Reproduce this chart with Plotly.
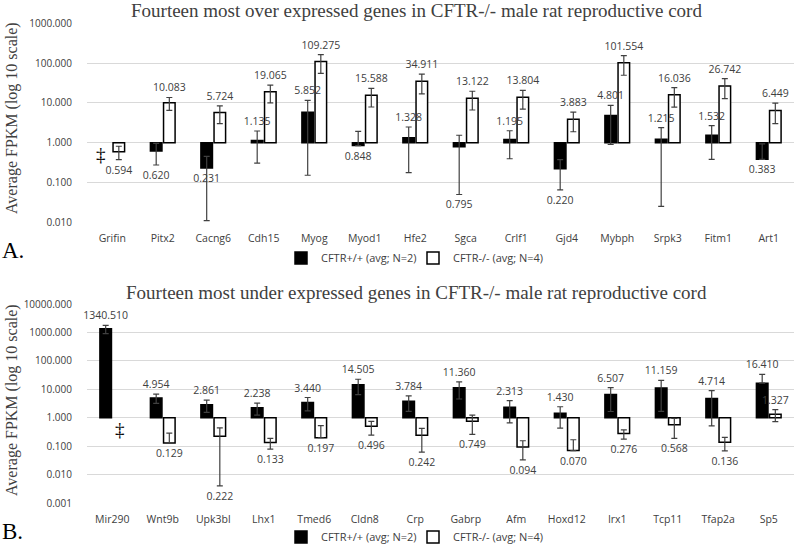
import plotly.graph_objects as go

# ---------------- data ----------------
genes_a = ["Grifin", "Pitx2", "Cacng6", "Cdh15", "Myog", "Myod1", "Hfe2",
           "Sgca", "Crlf1", "Gjd4", "Mybph", "Srpk3", "Fitm1", "Art1"]
wt_a = [None, 0.620, 0.231, 1.135, 5.852, 0.848, 1.328, 0.795, 1.195, 0.220,
        4.801, 1.215, 1.532, 0.383]
wt_a_err = [None, 0.345, 0.22, 0.83, 5.7, 1.07, 1.15, 0.745, 0.8, 0.155,
            3.9, 1.19, 1.15, 0.55]
ko_a = [0.594, 10.083, 5.724, 19.065, 109.275, 15.588, 34.911, 13.122, 13.804,
        3.883, 101.554, 16.036, 26.742, 6.449]
ko_a_err = [0.22, 3.6, 2.7, 9.0, 54, 7.7, 18, 6.5, 6.8, 2.0, 52, 8.2, 14, 3.45]

genes_b = ["Mir290", "Wnt9b", "Upk3bl", "Lhx1", "Tmed6", "Cldn8", "Crp",
           "Gabrp", "Afm", "Hoxd12", "Irx1", "Tcp11", "Tfap2a", "Sp5"]
wt_b = [1340.510, 4.954, 2.861, 2.238, 3.440, 14.505, 3.784, 11.360, 2.313,
        1.430, 6.507, 11.159, 4.714, 16.410]
wt_b_err = [430, 1.75, 1.32, 1.0, 1.7, 8.0, 2.1, 6.8, 1.65, 1.0, 4.85, 9.5,
            4.2, 17]
ko_b = [None, 0.129, 0.222, 0.133, 0.197, 0.496, 0.242, 0.749, 0.094, 0.070,
        0.276, 0.568, 0.136, 1.327]
ko_b_err = [None, 0.16, 0.218, 0.055, 0.33, 0.25, 0.18, 0.49, 0.061, 0.098,
            0.1, 0.38, 0.068, 0.6]

ticks_a = [0.01, 0.1, 1, 10, 100, 1000]
ticks_b = [0.001, 0.01, 0.1, 1, 10, 100, 1000, 10000]

title_a = "Fourteen most over expressed genes in CFTR-/- male rat reproductive cord"
title_b = "Fourteen most under expressed genes in CFTR-/- male rat reproductive cord"
name_wt = "CFTR+/+ (avg; N=2)"
name_ko = "CFTR-/- (avg; N=4)"
ytitle = "Average FPKM (log 10 scale)"

# ---------------- helpers ----------------
SANS = "Open Sans"
SERIF = "Liberation Serif"
TXT = "#404040"
ERRC = "#404040"


def rel(vals):
    return [None if v is None else v - 1 for v in vals]


def labels(vals):
    return ["" if v is None else f"{v:.3f}" for v in vals]


def minus(vals, errs):
    out = []
    for v, e in zip(vals, errs):
        if v is None or v - e <= 0:
            out.append(0)
        else:
            out.append(e)
    return out


def plus(errs):
    return [0 if e is None else e for e in errs]


def label_anchor(vals, errs, axis_min):
    """Data labels sit just beyond the error bar end (like the original),
    falling back to the bar end when the whisker runs to the axis floor."""
    out = []
    for v, e in zip(vals, errs):
        if v is None:
            out.append(None)
        elif v >= 1:
            out.append(v + e)
        elif v - e > 2 * axis_min:
            out.append(v - e)
        else:
            out.append(v)
    return out


def bar(x, vals, errs, name, fill, xa, ya, legend, group):
    return go.Bar(
        x=x, y=rel(vals), base=1, name=name, xaxis=xa, yaxis=ya,
        legend=legend, offsetgroup=group, hoverinfo="skip",
        marker=dict(color=fill, line=dict(color="#000000", width=1.5)),
        error_y=dict(type="data", symmetric=False, array=plus(errs),
                     arrayminus=minus(vals, errs), color=ERRC,
                     thickness=1.2, width=3),
    )


def textbar(x, vals, errs, axis_min, xa, ya, group):
    # transparent bars reaching the whisker ends, carrying only the labels,
    # drawn after all bars so labels sit on top
    return go.Bar(
        x=x, y=rel(label_anchor(vals, errs, axis_min)), base=1,
        xaxis=xa, yaxis=ya, offsetgroup=group,
        showlegend=False, hoverinfo="skip",
        marker=dict(color="rgba(0,0,0,0)", line=dict(width=0)),
        text=labels(vals), texttemplate="%{text}", textposition="outside",
        constraintext="none", cliponaxis=False,
        outsidetextfont=dict(family=SANS, size=10.5, color=TXT),
    )


fig = go.Figure()
fig.add_trace(bar(genes_a, wt_a, wt_a_err, name_wt, "#000000", "x", "y", "legend", "wt"))
fig.add_trace(bar(genes_a, ko_a, ko_a_err, name_ko, "#ffffff", "x", "y", "legend3", "ko"))
fig.add_trace(textbar(genes_a, wt_a, wt_a_err, ticks_a[0], "x", "y", "wt"))
fig.add_trace(textbar(genes_a, ko_a, ko_a_err, ticks_a[0], "x", "y", "ko"))
fig.add_trace(bar(genes_b, wt_b, wt_b_err, name_wt, "#000000", "x2", "y2", "legend2", "wt"))
fig.add_trace(bar(genes_b, ko_b, ko_b_err, name_ko, "#ffffff", "x2", "y2", "legend4", "ko"))
fig.add_trace(textbar(genes_b, wt_b, wt_b_err, ticks_b[0], "x2", "y2", "wt"))
fig.add_trace(textbar(genes_b, ko_b, ko_b_err, ticks_b[0], "x2", "y2", "ko"))

XDOM = [0.10875, 0.9925]
xcommon = dict(showgrid=False, showline=False, ticks="", zeroline=False,
               automargin=False,
               tickfont=dict(family=SANS, size=10.5, color=TXT),
               ticklabelstandoff=8, fixedrange=True)
ycommon = dict(type="log", showgrid=True, gridcolor="#d9d9d9", gridwidth=1,
               showline=False, ticks="", tickformat=".3f", automargin=False,
               tickfont=dict(family=SANS, size=10, color=TXT),
               ticklabelstandoff=14, fixedrange=True)

legcommon = dict(orientation="h", xanchor="left", yanchor="middle",
                 font=dict(family=SANS, size=11, color=TXT),
                 bgcolor="rgba(0,0,0,0)", itemwidth=30)


def ann(text, x, y, size, family=SERIF, color=TXT, **kw):
    d = dict(text=text, x=x, y=y, xref="paper", yref="paper", showarrow=False,
             xanchor="center", yanchor="middle",
             font=dict(family=family, size=size, color=color))
    d.update(kw)
    return d


annots = [
    ann(title_a, 0.521, 1 - 10.5 / 545, 19),
    ann(title_b, 0.521, 1 - 292 / 545, 19),
    ann(ytitle, 12 / 800, 1 - 118 / 545, 16, textangle=-90),
    ann(ytitle, 12 / 800, 1 - 400 / 545, 16, textangle=-90),
    ann("A.", 0, 1 - 250 / 545, 23, color="#000000", xanchor="left"),
    ann("B.", 0, 1 - 531 / 545, 23, color="#000000", xanchor="left"),
    dict(text="‡", x=genes_a[0], y=0, xref="x", yref="y", xshift=-11,
         yanchor="top", yshift=1, showarrow=False,
         font=dict(family=SERIF, size=19, color="#000000")),
    dict(text="‡", x=genes_b[0], y=0, xref="x2", yref="y2", xshift=8,
         yanchor="top", yshift=1, showarrow=False,
         font=dict(family=SERIF, size=19, color="#000000")),
]

LX_WT = 281 / 800
LX_KO = 413 / 800
fig.update_layout(
    template="none",
    width=800, height=545,
    margin=dict(l=0, r=0, t=0, b=0, autoexpand=False),
    paper_bgcolor="#ffffff", plot_bgcolor="#ffffff",
    barmode="group", bargap=0.48, bargroupgap=0.12,
    xaxis=dict(domain=XDOM, anchor="y", **xcommon),
    yaxis=dict(domain=[1 - 222.3 / 545, 1 - 23.3 / 545], anchor="x",
               range=[-2, 3], tickvals=ticks_a, **ycommon),
    xaxis2=dict(domain=XDOM, anchor="y2", **xcommon),
    yaxis2=dict(domain=[1 - 503 / 545, 1 - 304 / 545], anchor="x2",
                range=[-3, 4], tickvals=ticks_b, **ycommon),
    legend=dict(x=LX_WT, y=1 - 258 / 545, **legcommon),
    legend3=dict(x=LX_KO, y=1 - 258 / 545, **legcommon),
    legend2=dict(x=LX_WT, y=1 - 537 / 545, **legcommon),
    legend4=dict(x=LX_KO, y=1 - 537 / 545, **legcommon),
    annotations=annots,
    showlegend=True,
)

fig.write_html(
    "out.html",
    config={"displayModeBar": False},
    post_script="document.body.style.margin='0px';"
                "document.body.style.overflow='hidden';",
)
